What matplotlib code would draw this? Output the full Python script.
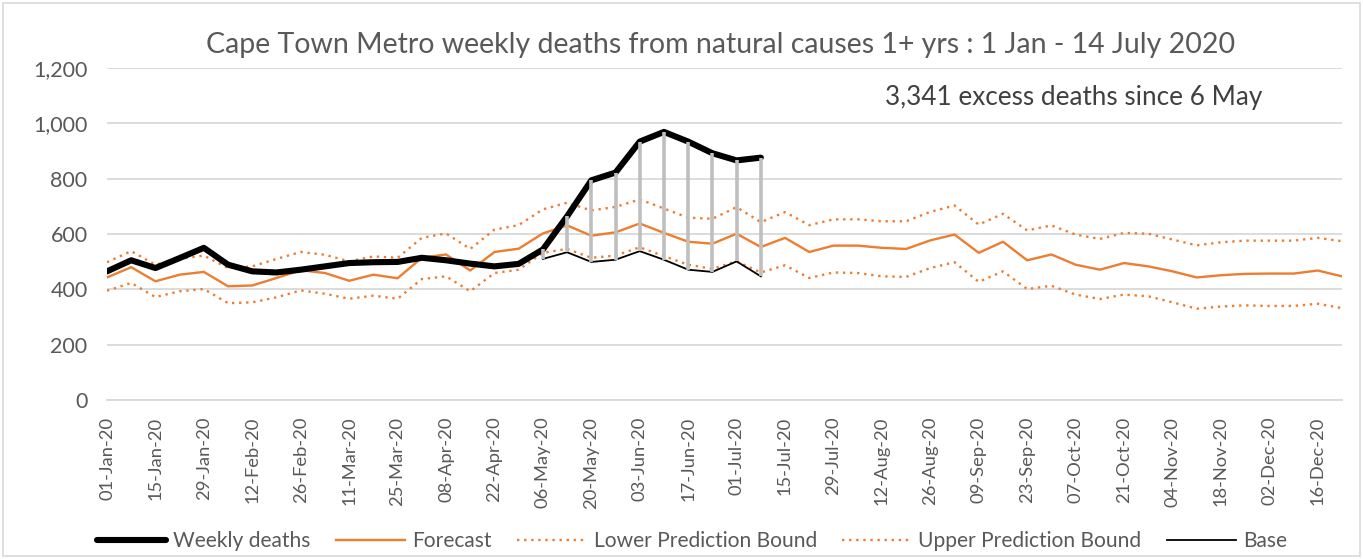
import numpy as np
import pandas as pd
import matplotlib
matplotlib.use('Agg')
import matplotlib.pyplot as plt
from matplotlib.patches import Rectangle

plt.rcParams['font.family'] = ['Lato', 'DejaVu Sans']

# weekly dates, 01-Jan-20 .. 23-Dec-20
weeks = pd.date_range('2020-01-01', periods=52, freq='7D')

# observed weekly deaths (to 08-Jul)
weekly_deaths = [465, 505, 477, 513, 550, 489, 465, 461, 471, 483,
                 495, 498, 499, 514, 505, 493, 483, 492, 544, 664,
                 794, 822, 934, 969, 934, 892, 866, 876]

forecast = [443, 480, 429, 453, 463, 411, 414, 441, 469, 459,
            431, 453, 440, 514, 526, 468, 535, 547, 602, 631,
            594, 606, 638, 604, 572, 565, 601, 553, 586, 535,
            558, 558, 550, 546, 577, 598, 532, 572, 505, 526,
            489, 471, 495, 483, 465, 443, 451, 456, 457, 457,
            468, 447]

upper_bound = [498, 538, 489, 510, 522, 477, 483, 510, 535, 525,
               501, 519, 514, 586, 602, 546, 616, 632, 689, 713,
               685, 698, 725, 692, 659, 655, 697, 643, 679, 632,
               653, 653, 646, 646, 680, 703, 634, 673, 613, 631,
               598, 582, 604, 601, 580, 559, 570, 576, 576, 576,
               586, 574]

lower_bound = [395, 423, 372, 393, 401, 350, 353, 371, 396, 384,
               366, 377, 366, 437, 447, 393, 459, 471, 532, 546,
               514, 522, 552, 520, 489, 474, 501, 461, 487, 441,
               461, 459, 447, 445, 477, 498, 427, 465, 401, 413,
               381, 365, 381, 375, 353, 330, 338, 342, 340, 340,
               348, 332]

# baseline used for the excess count, from 06-May
base_start = 18
base = [510, 534, 499, 507, 538, 507, 471, 463, 501, 447]

orange = '#ED7D31'
grey_txt = '#595959'

fig = plt.figure(figsize=(13.63, 5.59), dpi=100)
ax = fig.add_axes([107 / 1363, 1 - 400 / 559, 1235 / 1363, 332 / 559])

x = np.arange(len(weeks))
xd = x[:len(weekly_deaths)]
xb = x[base_start:base_start + len(base)]

ax.plot(x, forecast, color=orange, lw=1.7, zorder=3, label='Forecast')
ax.plot(x, lower_bound, color=orange, lw=1.7, ls=(0, (1, 2)), zorder=3, label='Lower Prediction Bound')
ax.plot(x, upper_bound, color=orange, lw=1.7, ls=(0, (1, 2)), zorder=3, label='Upper Prediction Bound')
ax.plot(xd, weekly_deaths, color='black', lw=4.4, zorder=4, label='Weekly deaths',
        solid_joinstyle='round', solid_capstyle='round')
ax.plot(xb, base, color='black', lw=1.3, zorder=4, label='Base')
# excess bars between base and observed deaths
ax.vlines(xb, base, np.array(weekly_deaths)[base_start:], color='#BFBFBF', lw=2.6, zorder=5)

ax.set_xlim(0, 51)
ax.set_ylim(0, 1200)
ax.set_yticks(range(0, 1201, 200))
ax.set_yticklabels([f'{v:,}' for v in range(0, 1201, 200)])
ax.set_xticks(x[::2])
ax.set_xticklabels([d.strftime('%d-%b-%y') for d in weeks[::2]], rotation=90)
ax.tick_params(axis='both', length=0, colors=grey_txt)
ax.tick_params(axis='y', pad=14, labelsize=15.5)
ax.tick_params(axis='x', pad=12, labelsize=13.2)
ax.grid(axis='y', color='#D9D9D9', lw=1.3)
ax.set_axisbelow(True)
for s in ['top', 'right', 'left']:
    ax.spines[s].set_visible(False)
ax.spines['bottom'].set_color('#D9D9D9')
ax.spines['bottom'].set_linewidth(1.3)

fig.text(721 / 1363, 1 - 45 / 559, 'Cape Town Metro weekly deaths from natural causes 1+ yrs : 1 Jan - 14 July 2020',
         ha='center', va='center', fontsize=20.5, color=grey_txt)
fig.text(1074 / 1363, 1 - 97 / 559, '3,341 excess deaths since 6 May',
         ha='center', va='center', fontsize=18.8, color='#404040')

handles, labels = ax.get_legend_handles_labels()
order = [3, 0, 1, 2, 4]
fig.legend([handles[i] for i in order], [labels[i] for i in order],
           loc='center', bbox_to_anchor=(692 / 1363, 1 - 541 / 559), ncol=5, frameon=False,
           fontsize=15.1, labelcolor=grey_txt, handlelength=3.3, columnspacing=1.2,
           handletextpad=0.35)

fig.patches.append(Rectangle((3 / 1363, 3 / 559), 1 - 6 / 1363, 1 - 6 / 559,
                             transform=fig.transFigure, fill=False,
                             edgecolor='#D9D9D9', lw=1.2))

fig.savefig('out.png', dpi=100)
